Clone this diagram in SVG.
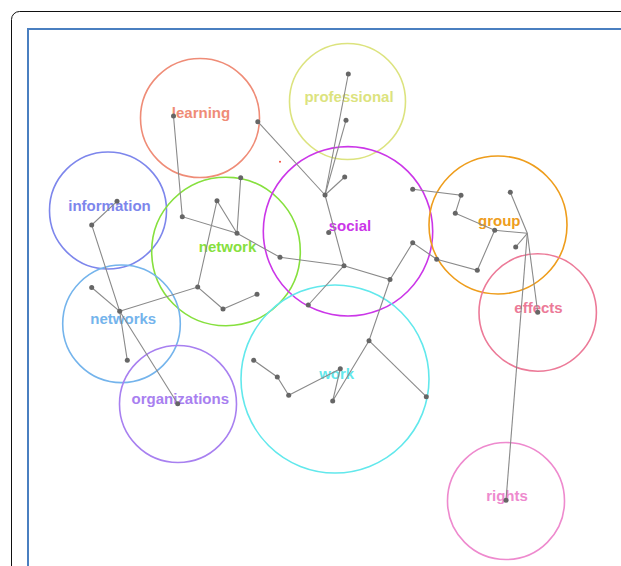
<svg xmlns="http://www.w3.org/2000/svg" width="621" height="566" viewBox="0 0 621 566">
<style>
.c{fill:none;stroke-width:1.6}
.t{font-family:"Liberation Sans",Arial,Helvetica,sans-serif;font-weight:bold;font-size:15px;text-anchor:middle}
.e{stroke:#8a8a8a;stroke-width:1.1;fill:none}
.d{fill:#666}
</style>
<rect x="11.5" y="11.5" width="640" height="600" rx="8" fill="#fff" stroke="#111" stroke-width="1"/>
<rect x="28" y="29" width="620" height="580" fill="#fff" stroke="#4a7fc0" stroke-width="2"/>
<g id="node-learning"><circle class="c" cx="200" cy="118" r="59.5" stroke="#ef8c77"/><text class="t" x="201" y="118" fill="#ef8c77">learning</text></g>
<g id="node-professional"><circle class="c" cx="347.5" cy="101.5" r="58" stroke="#dce37e"/><text class="t" x="349" y="102" fill="#dce37e">professional</text></g>
<g id="node-information"><circle class="c" cx="108" cy="210.5" r="58.5" stroke="#7d86ec"/><text class="t" x="109.5" y="211" fill="#7d86ec">information</text></g>
<g id="node-network"><circle class="c" cx="226" cy="251.5" r="74.3" stroke="#86e03e"/><text class="t" x="227.5" y="251.5" fill="#86e03e">network</text></g>
<g id="node-social"><circle class="c" cx="348" cy="231.3" r="84.7" stroke="#cb36e8"/><text class="t" x="350" y="231" fill="#cb36e8">social</text></g>
<g id="node-group"><circle class="c" cx="498" cy="225" r="69" stroke="#ee9d1c"/><text class="t" x="499.3" y="225.5" fill="#ee9d1c">group</text></g>
<g id="node-effects"><circle class="c" cx="537.7" cy="312.5" r="58.7" stroke="#ec7a98"/><text class="t" x="538.5" y="312.5" fill="#ec7a98">effects</text></g>
<g id="node-networks"><circle class="c" cx="121.5" cy="323.8" r="58.8" stroke="#74b4ec"/><text class="t" x="123.3" y="323.5" fill="#74b4ec">networks</text></g>
<g id="node-organizations"><circle class="c" cx="178" cy="404" r="58.5" stroke="#a880f0"/><text class="t" x="180.3" y="404" fill="#a880f0">organizations</text></g>
<g id="node-work"><circle class="c" cx="335" cy="379" r="94" stroke="#62e8ec"/><text class="t" x="336.7" y="379" fill="#62e8ec">work</text></g>
<g id="node-rights"><circle class="c" cx="506" cy="501" r="58.5" stroke="#ee8ace"/><text class="t" x="507" y="501" fill="#ee8ace">rights</text></g>
<circle cx="280" cy="161.7" r="1" fill="#f04a3a"/>
<g id="connectors">
<polyline class="e" points="117,201.3 91.7,225 119.7,311.3 127.3,360.3"/>
<line class="e" x1="119.7" y1="311.3" x2="177.7" y2="403.7"/>
<line class="e" x1="91.7" y1="287.5" x2="119.7" y2="311.3"/>
<polyline class="e" points="119.7,311.3 197.7,287 223,309 257,294.3"/>
<polyline class="e" points="197.7,287 217,200.7 237,233.3 240.7,177.7"/>
<polyline class="e" points="173.5,116 182.3,216.7 237,233.3 280,257.3 344,265.7 390,279.5 412.7,242.8 436.7,259.3 477.3,270.3 494.7,230.3"/>
<polyline class="e" points="412.7,189.3 461,195.3 455.3,213.3 494.7,230.3 527.3,233.3"/>
<line class="e" x1="510.3" y1="192.3" x2="527.3" y2="233.3"/>
<line class="e" x1="515.7" y1="247" x2="527.3" y2="233.3"/>
<line class="e" x1="527.3" y1="233.3" x2="537.7" y2="312.3"/>
<line class="e" x1="527.3" y1="233.3" x2="506" y2="500.3"/>
<line class="e" x1="348.3" y1="74" x2="325" y2="195"/>
<line class="e" x1="346" y1="120.3" x2="325" y2="195"/>
<line class="e" x1="257.8" y1="121.7" x2="325" y2="195"/>
<line class="e" x1="344.7" y1="177" x2="325" y2="195"/>
<line class="e" x1="325" y1="195" x2="344" y2="265.7"/>
<line class="e" x1="344" y1="265.7" x2="308.3" y2="305"/>
<polyline class="e" points="390,279.5 369,340.7 332.7,401 340.3,368.7 288.7,395.3 277.3,377 253.7,360.3"/>
<line class="e" x1="369" y1="340.7" x2="426.3" y2="396.7"/>
</g>
<g id="dots" class="d">
<circle cx="117" cy="201.3" r="2.5"/><circle cx="91.7" cy="225" r="2.5"/><circle cx="182.3" cy="216.7" r="2.5"/>
<circle cx="217" cy="200.7" r="2.5"/><circle cx="240.7" cy="177.7" r="2.5"/><circle cx="237" cy="233.3" r="2.5"/>
<circle cx="280" cy="257.3" r="2.5"/><circle cx="91.7" cy="287.5" r="2.5"/><circle cx="119.7" cy="311.3" r="2.5"/>
<circle cx="197.7" cy="287" r="2.5"/><circle cx="223" cy="309" r="2.5"/><circle cx="257" cy="294.3" r="2.5"/>
<circle cx="308.3" cy="305" r="2.5"/><circle cx="127.3" cy="360.3" r="2.5"/><circle cx="177.7" cy="403.7" r="2.5"/>
<circle cx="173.5" cy="116" r="2.5"/><circle cx="257.8" cy="121.7" r="2.5"/>
<circle cx="348.3" cy="74" r="2.5"/><circle cx="346" cy="120.3" r="2.5"/><circle cx="344.7" cy="177" r="2.5"/>
<circle cx="325" cy="195" r="2.5"/><circle cx="328.7" cy="232.5" r="2.5"/><circle cx="344" cy="265.7" r="2.5"/>
<circle cx="390" cy="279.5" r="2.5"/><circle cx="412.7" cy="189.3" r="2.5"/><circle cx="412.7" cy="242.8" r="2.5"/>
<circle cx="461" cy="195.3" r="2.5"/><circle cx="455.3" cy="213.3" r="2.5"/><circle cx="494.7" cy="230.3" r="2.5"/>
<circle cx="510.3" cy="192.3" r="2.5"/><circle cx="515.7" cy="247" r="2.5"/><circle cx="436.7" cy="259.3" r="2.5"/>
<circle cx="477.3" cy="270.3" r="2.5"/><circle cx="537.7" cy="312.3" r="2.5"/><circle cx="506" cy="500.3" r="2.5"/>
<circle cx="369" cy="340.7" r="2.5"/><circle cx="426.3" cy="396.7" r="2.5"/><circle cx="253.7" cy="360.3" r="2.5"/>
<circle cx="277.3" cy="377" r="2.5"/><circle cx="288.7" cy="395.3" r="2.5"/><circle cx="340.3" cy="368.7" r="2.5"/>
<circle cx="332.7" cy="401" r="2.5"/>
</g>
</svg>
